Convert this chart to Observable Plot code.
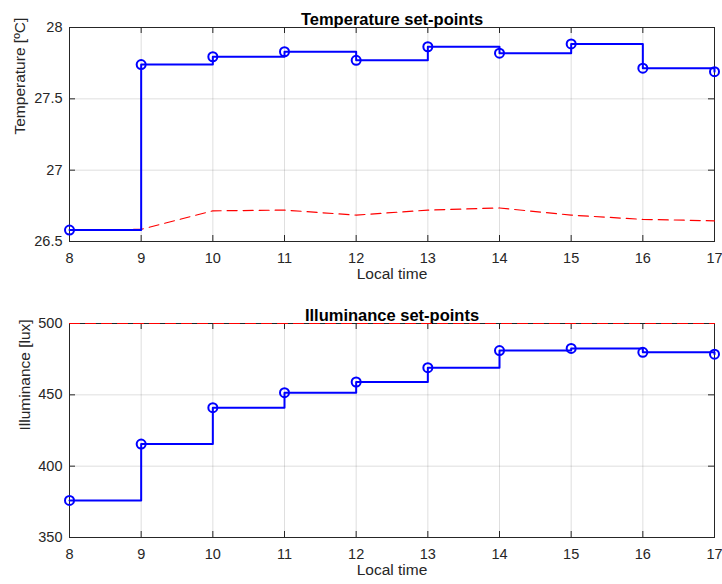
<!DOCTYPE html>
<html>
<head>
<meta charset="utf-8">
<script src="https://cdn.jsdelivr.net/npm/d3@7"></script>
<script src="https://cdn.jsdelivr.net/npm/@observablehq/plot@0.6"></script>
<style>
  html, body { margin: 0; padding: 0; background: #fff; }
  #chart { width: 722px; }
  #chart svg { display: block; }
</style>
</head>
<body>
<div id="chart"></div>
<script>
// ---- data ----
const hours = [8, 9, 10, 11, 12, 13, 14, 15, 16, 17];
const tempSetpoints = [26.58, 27.74, 27.795, 27.83, 27.77, 27.865, 27.82, 27.885, 27.715, 27.69];
const tempReference = [26.58, 26.585, 26.715, 26.72, 26.685, 26.72, 26.735, 26.685, 26.655, 26.645];
const illumSetpoints = [376, 415.5, 441, 451.5, 459, 469, 481, 482.5, 479.8, 478.5];
const illumReference = [500, 500, 500, 500, 500, 500, 500, 500, 500, 500];
const tempTicks = [26.5, 27, 27.5, 28];
const illumTicks = [350, 400, 450, 500];
const hourTicks = [8, 9, 10, 11, 12, 13, 14, 15, 16, 17];

const FONT = "'Liberation Sans', Arial, Helvetica, sans-serif";
const AX = "#262626";

function panel({title, ylabel, yDomain, yTicks, setpoints, reference, height, mt, mb, ylabelDx}) {
  const ml = 69, mr = 8, W = 722;
  const ph = height - mt - mb, pw = W - ml - mr;
  const sp = hours.map((h, i) => ({x: h, y: setpoints[i]}));
  const rf = hours.map((h, i) => ({x: h, y: reference[i]}));
  const tl = 6;
  return Plot.plot({
    width: W, height,
    marginTop: mt, marginBottom: mb, marginLeft: ml, marginRight: mr,
    style: {fontFamily: FONT, fontSize: "14.5px", color: AX, background: "white", overflow: "visible"},
    x: {domain: [8, 17], axis: null},
    y: {domain: yDomain, axis: null},
    marks: [
      Plot.ruleX(hourTicks, {x: d => d, stroke: AX, strokeOpacity: 0.15}),
      Plot.ruleY(yTicks, {y: d => d, stroke: AX, strokeOpacity: 0.15}),
      Plot.frame({stroke: AX, strokeWidth: 1}),
      Plot.tickX(hourTicks, {x: d => d, insetTop: ph - tl, stroke: AX}),
      Plot.tickX(hourTicks, {x: d => d, insetBottom: ph - tl, stroke: AX}),
      Plot.tickY(yTicks, {y: d => d, insetRight: pw - tl, stroke: AX}),
      Plot.tickY(yTicks, {y: d => d, insetLeft: pw - tl, stroke: AX}),
      Plot.axisX({ticks: hourTicks, tickSize: 0, tickPadding: 11, label: null, fontSize: 14.5, tickFormat: d => String(d)}),
      Plot.axisY({ticks: yTicks, tickSize: 0, tickPadding: 7, label: null, fontSize: 14.5, tickFormat: d => String(d)}),
      Plot.text([ylabel], {frameAnchor: "left", dx: ylabelDx, rotate: -90, fontSize: 15.5, fill: AX}),
      Plot.text(["Local time"], {frameAnchor: "bottom", dy: 37.5, fontSize: 15.5, fill: AX}),
      Plot.text([title], {frameAnchor: "top", dy: -14, fontSize: 16.5, fontWeight: "bold", fill: "#000"}),
      Plot.line(rf, {x: "x", y: "y", stroke: "#ff0000", strokeWidth: 1.2, strokeDasharray: "10,6"}),
      Plot.line(sp, {x: "x", y: "y", stroke: "#0000ff", strokeWidth: 2, curve: "step-after"}),
      Plot.dot(sp, {x: "x", y: "y", r: 4.5, stroke: "#0000ff", strokeWidth: 2, fill: "none"})
    ]
  });
}

const chart = document.getElementById("chart");
chart.append(panel({
  title: "Temperature set-points", ylabel: "Temperature [ºC]",
  yDomain: [26.5, 28], yTicks: tempTicks,
  setpoints: tempSetpoints, reference: tempReference,
  height: 290, mt: 27, mb: 49, ylabelDx: -49
}));
chart.append(panel({
  title: "Illuminance set-points", ylabel: "Illuminance [lux]",
  yDomain: [350, 500], yTicks: illumTicks,
  setpoints: illumSetpoints, reference: illumReference,
  height: 294, mt: 33, mb: 47, ylabelDx: -44
}));
</script>
</body>
</html>
